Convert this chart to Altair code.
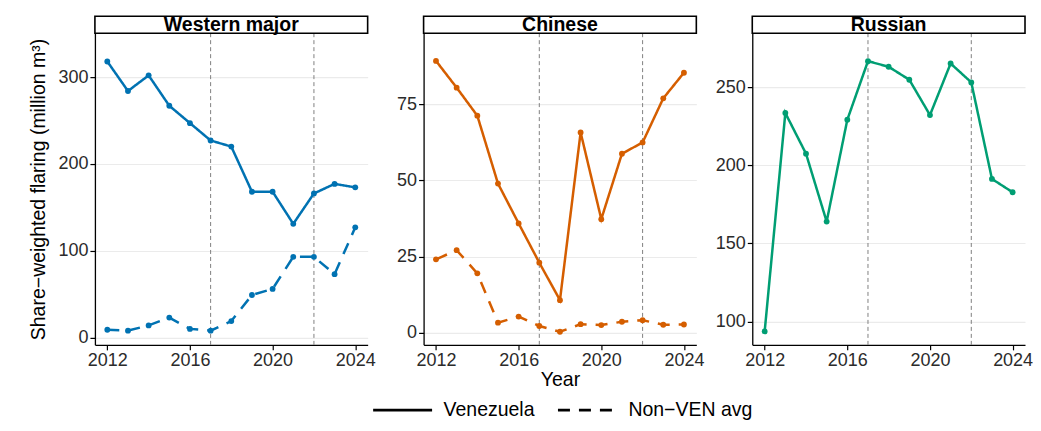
import altair as alt
import pandas as pd

years = list(range(2012, 2025))
tick_years = [2012, 2016, 2020, 2024]
policy_years = [2017, 2022]

western_ven = [318, 284, 302, 267, 247, 227, 220, 168, 168, 131, 166, 177, 173]
western_non = [9, 8, 14, 23, 10, 8, 19, 49, 56, 93, 93, 73, 127]
chinese_ven = [89.3, 80.5, 71.3, 49.0, 35.9, 23.0, 10.7, 65.8, 37.3, 58.8, 62.5, 77.0, 85.4]
chinese_non = [24.1, 27.1, 19.5, 3.3, 5.3, 2.2, 0.3, 2.8, 2.5, 3.6, 4.1, 2.6, 2.7]
russian_ven = [93.6, 233.4, 207.4, 163.9, 229.1, 266.6, 263.0, 254.7, 232.1, 265.1, 253.0, 191.2, 182.7]

series_names = ["Venezuela", "Non\u2212VEN avg"]
FONT = "Liberation Sans"
W, H = 273, 312


def make_df(ven, non):
    rows = [{"Year": y, "value": v, "series": series_names[0]} for y, v in zip(years, ven)]
    if non is not None:
        rows += [{"Year": y, "value": v, "series": series_names[1]} for y, v in zip(years, non)]
    return pd.DataFrame(rows)


def panel(name, ven, non, color, domain, yticks, ytitle, xtitle, legend):
    df = make_df(ven, non)
    x = alt.X("Year:Q",
              scale=alt.Scale(domain=[2011.4, 2024.6], nice=False, zero=False),
              axis=alt.Axis(values=tick_years, format="d", grid=False, title=xtitle,
                            titlePadding=1))
    y = alt.Y("value:Q",
              scale=alt.Scale(domain=domain, nice=False, zero=False),
              axis=alt.Axis(values=yticks, title=ytitle, titlePadding=9))
    dash = alt.StrokeDash("series:N",
                          scale=alt.Scale(domain=series_names, range=[[1, 0], [12, 9]]),
                          legend=legend)
    rules = alt.Chart(pd.DataFrame({"Year": policy_years})).mark_rule(
        color="#808080", strokeWidth=1, strokeDash=[4, 3]).encode(x=x)
    lines = alt.Chart(df).mark_line(color=color, strokeWidth=2.5).encode(
        x=x, y=y, strokeDash=dash, detail="series:N")
    pts = alt.Chart(df).mark_circle(color=color, size=34, opacity=1).encode(x=x, y=y)
    sdf = pd.DataFrame({"t": [name]})
    strip = alt.Chart(sdf).mark_rect(fill="white", stroke="black", strokeWidth=1.6).encode(
        x=alt.value(0), x2=alt.value(W), y=alt.value(-17), y2=alt.value(0))
    stxt = alt.Chart(sdf).mark_text(font=FONT, fontWeight="bold", fontSize=19.5,
                                    baseline="middle", align="center", color="black").encode(
        x=alt.value(W / 2), y=alt.value(-8), text="t:N")
    return alt.layer(rules, lines, pts, strip, stxt).properties(width=W, height=H)


leg = alt.Legend(title=None, orient="none", legendX=-52, legendY=346, direction="horizontal",
                 symbolType="stroke", symbolSize=3481, symbolStrokeWidth=2.8,
                 symbolStrokeColor="black", symbolOpacity=1, labelFont=FONT, labelFontSize=19.5,
                 labelColor="black", labelOffset=10, columnPadding=16, padding=0)

p1 = panel("Western major", western_ven, western_non, "#0072B2", [-8.4, 350.6],
           [0, 100, 200, 300], "Share\u2212weighted flaring (million m\u00b3)", None, None)
p2 = panel("Chinese", chinese_ven, chinese_non, "#D55E00", [-4.0, 98.4],
           [0, 25, 50, 75], None, "Year", leg)
p3 = panel("Russian", russian_ven, None, "#009E73", [85, 284.5],
           [100, 150, 200, 250], None, None, None)

chart = alt.hconcat(p1, p2, p3, spacing=56, bounds="flush").resolve_scale(
    strokeDash="independent").resolve_legend(strokeDash="independent").properties(
    padding={"left": 20, "top": 7, "right": 0, "bottom": 0},
    background="white",
).configure_view(stroke=None).configure_axis(
    domainColor="black", domainWidth=1.3, tickColor="black", tickSize=5, tickWidth=1.2,
    labelFont=FONT, labelFontSize=18, labelColor="#2b2b2b", labelPadding=2,
    titleFont=FONT, titleFontSize=19.5, titleFontWeight="normal", titleColor="black",
    gridColor="#EBEBEB", gridWidth=1.1,
).configure_axisX(labelFlush=False)

chart.save("out.html", embed_options={"renderer": "svg", "actions": False})
